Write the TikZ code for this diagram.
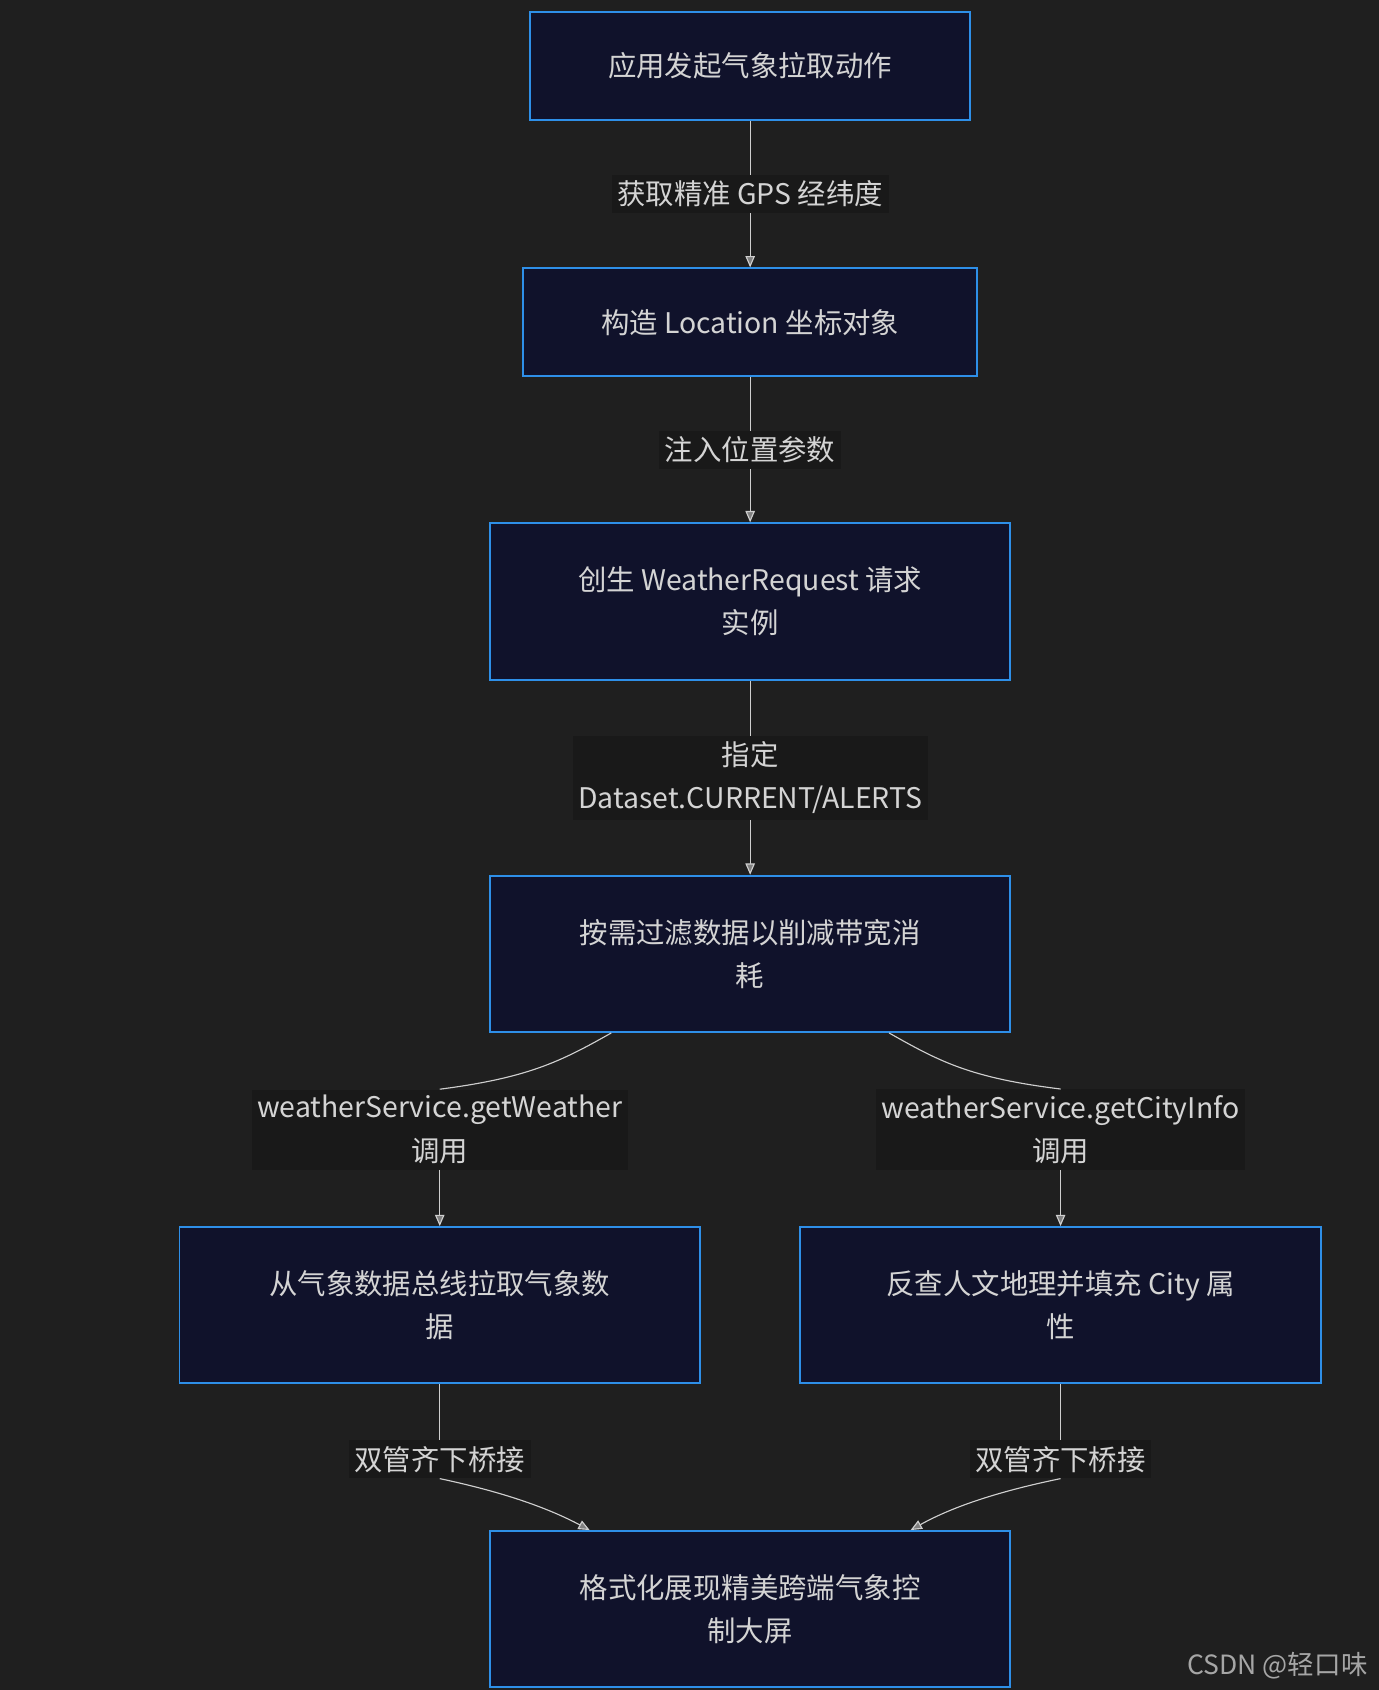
\documentclass[tikz,border=0pt]{standalone}
\usepackage{fontspec}
\setmainfont{Noto Sans CJK SC}
\usetikzlibrary{arrows.meta}
\definecolor{bgcol}{HTML}{1F1F1F}
\definecolor{boxfill}{HTML}{10122B}
\definecolor{boxline}{HTML}{2E8FE8}
\definecolor{txtcol}{HTML}{D4D4D4}
\definecolor{lblfill}{HTML}{191919}
\definecolor{edgecol}{HTML}{CFCFCF}
\tikzset{
  box/.style={draw=boxline, fill=boxfill, line width=1pt, text=txtcol,
    align=center, inner sep=0pt, font=\fontsize{15}{23}\selectfont},
  lbl/.style={fill=lblfill, text=txtcol, align=center, inner sep=3pt,
    font=\fontsize{15}{23}\selectfont},
  edge/.style={draw=edgecol, line width=0.6pt, -{Triangle[width=5pt,length=6pt,fill=gray]}},
}
\begin{document}
\begin{tikzpicture}[x=0.02cm,y=-0.02cm]
\fill[bgcol] (0,0) rectangle (1279,1568);
\useasboundingbox (0,0) rectangle (1279,1568);
% boxes
\node[box, minimum width=408*0.02cm, minimum height=100*0.02cm] (start) at (696,61) {应用发起气象拉取动作};
\node[box, minimum width=421*0.02cm, minimum height=100*0.02cm] (loc) at (696,299) {构造 Location 坐标对象};
\node[box, minimum width=482*0.02cm, minimum height=145*0.02cm] (req) at (696,558) {创生 WeatherRequest 请求\\实例};
\node[box, minimum width=482*0.02cm, minimum height=145*0.02cm] (filter) at (696,885) {按需过滤数据以削减带宽消\\耗};
\node[box, minimum width=483*0.02cm, minimum height=145*0.02cm] (pull) at (408,1211) {从气象数据总线拉取气象数\\据};
\node[box, minimum width=483*0.02cm, minimum height=145*0.02cm] (city) at (984,1211) {反查人文地理并填充 City 属\\性};
\node[box, minimum width=482*0.02cm, minimum height=145*0.02cm] (screen) at (696,1493) {格式化展现精美跨端气象控\\制大屏};
% straight edges
\draw[edge] (start) -- node[lbl] (l1) {获取精准 GPS 经纬度} (loc);
\draw[edge] (loc) -- node[lbl] (l2) {注入位置参数} (req);
\draw[edge] (req) -- node[lbl] (l3) {指定\\Dataset.CURRENT/ALERTS} (filter);
% curved edges
\node[lbl] (l4) at (408,1048) {weatherService.getWeather\\调用};
\node[lbl] (l5) at (984,1048) {weatherService.getCityInfo\\调用};
\node[lbl] (l6) at (408,1354) {双管齐下桥接};
\node[lbl] (l7) at (984,1354) {双管齐下桥接};
\begin{scope}[on background layer/.style={}]
\end{scope}
\draw[draw=edgecol, line width=0.6pt] ([xshift=113*0.02cm]filter.south west) .. controls (520,985) and (490,1000) .. (l4.north);
\draw[edge] (l4.south) .. controls (408,1110) .. (pull.north);
\draw[draw=edgecol, line width=0.6pt] ([xshift=-113*0.02cm]filter.south east) .. controls (872,985) and (900,1000) .. (l5.north);
\draw[edge] (l5.south) .. controls (984,1110) .. (city.north);
\draw[draw=edgecol, line width=0.6pt] (pull.south) .. controls (408,1310) .. (l6.north);
\draw[edge] (l6.south) .. controls (470,1385) and (510,1400) .. ([xshift=93*0.02cm]screen.north west);
\draw[draw=edgecol, line width=0.6pt] (city.south) .. controls (984,1310) .. (l7.north);
\draw[edge] (l7.south) .. controls (920,1385) and (880,1400) .. ([xshift=-93*0.02cm]screen.north east);
\node[text=gray!70, font=\fontsize{14}{16}\selectfont, anchor=east] (mark) at (1275,1545) {CSDN @轻口味};
\end{tikzpicture}
\end{document}
